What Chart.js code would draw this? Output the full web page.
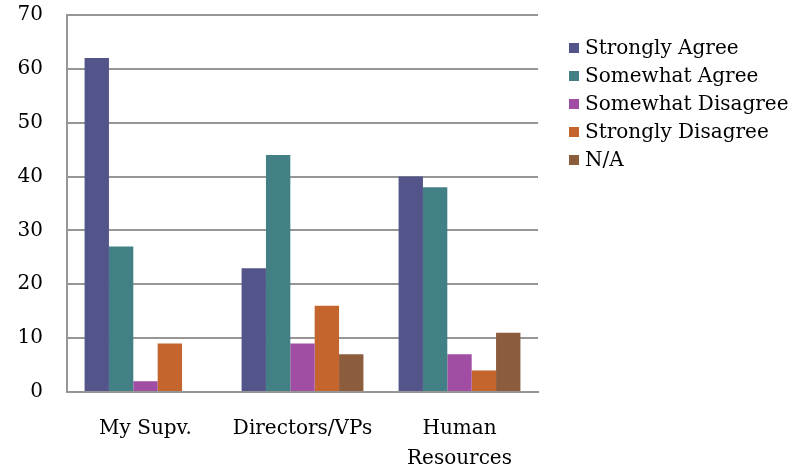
<!DOCTYPE html>
<html>
<head>
<meta charset="utf-8">
<script src="https://cdn.jsdelivr.net/npm/chart.js@4/dist/chart.umd.min.js"></script>
<style>
  html, body { margin: 0; padding: 0; background: #fff; }
  #wrap { width: 796px; height: 466px; position: relative; }
</style>
</head>
<body>
<div id="wrap"><canvas id="c" width="796" height="466"></canvas></div>
<script>
// Survey responses by group (counts)
const categories = [["My Supv."], ["Directors/VPs"], ["Human", "Resources"]];
const seriesNames = ["Strongly Agree", "Somewhat Agree", "Somewhat Disagree", "Strongly Disagree", "N/A"];
const stronglyAgree    = [62, 23, 40];
const somewhatAgree    = [27, 44, 38];
const somewhatDisagree = [2, 9, 7];
const stronglyDisagree = [9, 16, 4];
const notApplicable    = [0, 7, 11];
const yTicks = [0, 10, 20, 30, 40, 50, 60, 70];

const colors = ["#53548A", "#438086", "#A04DA3", "#C4652D", "#8B5D3D"];
const seriesValues = [stronglyAgree, somewhatAgree, somewhatDisagree, stronglyDisagree, notApplicable];

const FONT = "'DejaVu Serif', 'Liberation Serif', serif";

// Legend drawn on the right, one row per series
const sideLegend = {
  id: 'sideLegend',
  afterDraw(chart) {
    const ctx = chart.ctx;
    ctx.save();
    ctx.font = "20px " + FONT;
    ctx.textBaseline = 'middle';
    ctx.textAlign = 'left';
    chart.data.datasets.forEach((ds, i) => {
      const cy = 48 + i * 28;
      ctx.fillStyle = ds.backgroundColor;
      ctx.fillRect(569, cy - 5, 10, 10);
      ctx.fillStyle = '#000';
      ctx.fillText(ds.label, 585, cy + 1);
    });
    ctx.restore();
  }
};

new Chart(document.getElementById('c'), {
  type: 'bar',
  data: {
    labels: categories,
    datasets: seriesNames.map((name, i) => ({
      label: name,
      data: seriesValues[i],
      backgroundColor: colors[i],
      borderWidth: 0,
      categoryPercentage: 0.776,
      barPercentage: 1.0
    }))
  },
  options: {
    responsive: false,
    animation: false,
    devicePixelRatio: 1,
    layout: { padding: { top: 15, right: 258, left: 0, bottom: 0 } },
    plugins: {
      legend: { display: false },
      tooltip: { enabled: false }
    },
    scales: {
      x: {
        grid: { display: false, drawTicks: false },
        border: { display: true, color: '#969696', width: 2 },
        ticks: {
          color: '#000',
          font: { family: FONT, size: 20, lineHeight: 1.5 },
          padding: 22,
          maxRotation: 0,
          autoSkip: false
        },
        afterFit(scale) {
          scale.height = 74;
          scale.paddingLeft = 0;
          scale.paddingRight = 0;
        }
      },
      y: {
        min: 0,
        max: 70,
        afterBuildTicks(scale) { scale.ticks = yTicks.map(v => ({ value: v })); },
        grid: { color: '#969696', lineWidth: 2, drawTicks: false },
        border: { display: true, color: '#969696', width: 2 },
        ticks: {
          color: '#000',
          font: { family: FONT, size: 20 },
          padding: 24
        },
        afterFit(scale) {
          scale.width = 67;
          scale.paddingTop = 0;
          scale.paddingBottom = 0;
        }
      }
    }
  },
  plugins: [sideLegend]
});
</script>
</body>
</html>
